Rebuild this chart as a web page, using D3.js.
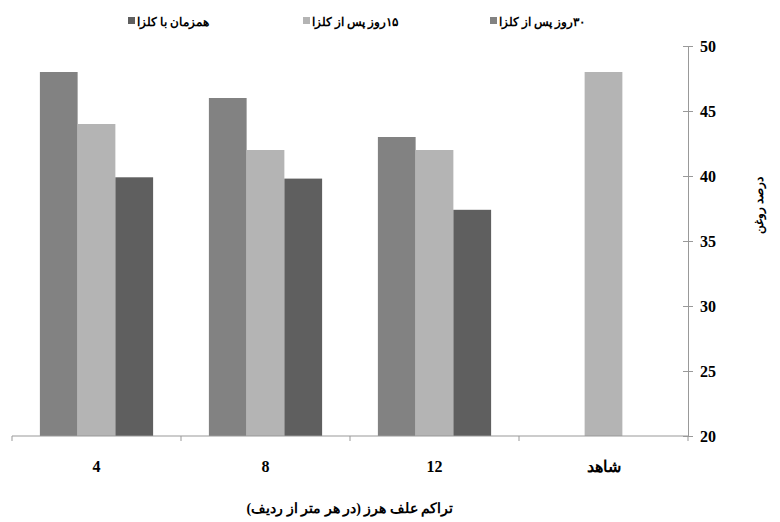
<!DOCTYPE html><html><head><meta charset="utf-8"><script src="https://cdn.jsdelivr.net/npm/d3@7"></script>
<style>body{margin:0;background:#fff}text{font-family:"Liberation Serif","DejaVu Serif",serif;font-weight:bold}</style></head><body>
<svg id="c" width="780" height="522"></svg>
<script>
const categories=["4","8","12","شاهد"];
const seriesNames=["۳۰روز پس از کلزا","۱۵روز پس از کلزا","همزمان با کلزا"];
const colors=["#828282","#b4b4b4","#5f5f5f"];
const s30=[48,46,43,null];
const s15=[44,42,42,48];
const s0=[39.9,39.8,37.4,null];
const yTicks=[20,25,30,35,40,45,50];
const vals=[s30,s15,s0];
const svg=d3.select("#c");
const x=d3.scaleBand().domain(categories).range([12,688]).paddingInner(0.33).paddingOuter(0.165);
const xs=d3.scaleBand().domain([0,1,2]).range([0,x.bandwidth()]);
const y=d3.scaleLinear().domain([20,50]).range([436,46]);
vals.forEach((v,si)=>{
 svg.selectAll(null).data(categories.map((c,i)=>({c,v:v[i]})).filter(d=>d.v!=null)).enter().append("rect")
 .attr("x",d=>x(d.c)+xs(si)).attr("width",xs.bandwidth()).attr("y",d=>y(d.v)).attr("height",d=>436-y(d.v)).attr("fill",colors[si]);
});
svg.append("line").attr("x1",12).attr("x2",688).attr("y1",436).attr("y2",436).attr("stroke","#999");
const step=(688-12)/4;
for(let i=0;i<=4;i++)svg.append("line").attr("x1",12+i*step).attr("x2",12+i*step).attr("y1",436).attr("y2",441).attr("stroke","#999");
categories.forEach(c=>svg.append("text").attr("x",x(c)+x.bandwidth()/2).attr("y",472).attr("text-anchor","middle").attr("font-size",16).text(c));
const ya=svg.append("g").attr("transform","translate(688,0)").call(d3.axisRight(y).tickValues(yTicks).tickSize(5).tickPadding(7));
ya.select(".domain").attr("stroke","#999");
ya.selectAll(".tick line").attr("stroke","#999").attr("x1",-5);
ya.selectAll("text").attr("font-size",16).attr("fill","#000").attr("font-family","Liberation Serif");
svg.append("text").attr("transform","translate(763,205) rotate(-90)").attr("text-anchor","middle").attr("font-size",12).attr("font-family","DejaVu Sans").text("درصد روغن");
svg.append("text").attr("x",350).attr("y",513).attr("text-anchor","middle").attr("font-size",14).text("تراکم علف هرز (در هر متر از ردیف)");
const lx=[490,303,128];
seriesNames.forEach((n,i)=>{
 svg.append("rect").attr("x",lx[i]).attr("y",17).attr("width",7).attr("height",7).attr("fill",colors[i]);
 svg.append("text").attr("x",lx[i]+9).attr("y",26).attr("font-size",12).attr("direction","rtl").attr("text-anchor","end").text(n);
});
</script></body></html>
